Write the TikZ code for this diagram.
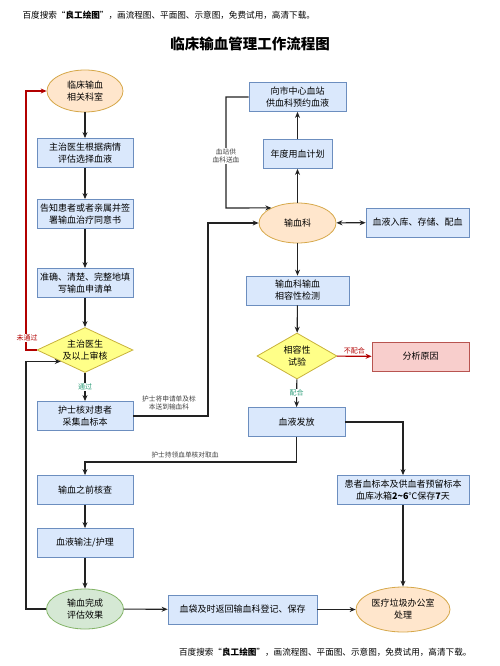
\documentclass[tikz,border=0pt]{standalone}
\usepackage{fontspec}
\setmainfont{Noto Sans CJK SC}
\usetikzlibrary{shapes.geometric,arrows.meta}

\definecolor{boxfill}{HTML}{DAE8FC}
\definecolor{boxline}{HTML}{6C8EBF}
\definecolor{orfill}{HTML}{FFE6CC}
\definecolor{orline}{HTML}{D6A84A}
\definecolor{grfill}{HTML}{D5E8D4}
\definecolor{grline}{HTML}{82B366}
\definecolor{yefill}{HTML}{FFFF88}
\definecolor{yeline}{HTML}{C8B23C}
\definecolor{pkfill}{HTML}{F8CECC}
\definecolor{pkline}{HTML}{B85450}
\definecolor{noline}{HTML}{B20000}
\definecolor{okline}{HTML}{2E9E7A}
\definecolor{wire}{HTML}{222222}

\tikzset{
  stepbox/.style={draw=boxline, fill=boxfill, line width=0.8pt, align=center,
    inner sep=0pt, minimum height=29, font=\fontsize{9}{12}\selectfont},
  startoval/.style={ellipse, draw=orline, fill=orfill, line width=0.8pt, align=center,
    inner sep=0pt, font=\fontsize{9}{12}\selectfont},
  endoval/.style={ellipse, draw=grline, fill=grfill, line width=0.8pt, align=center,
    inner sep=0pt, font=\fontsize{9}{12}\selectfont},
  checkdiamond/.style={diamond, draw=yeline, fill=yefill, line width=0.8pt, align=center,
    inner sep=0pt, font=\fontsize{9}{12}\selectfont},
  badbox/.style={stepbox, draw=pkline, fill=pkfill},
  wirelabel/.style={font=\fontsize{6.7}{8.5}\selectfont, align=center, text=black!75, inner sep=1pt},
  >={Stealth[length=6pt,width=5pt]},
}

\begin{document}
\begin{tikzpicture}[x=1pt, y=-1pt, line width=1.1pt, draw=wire]
  \useasboundingbox (0,0) rectangle (500,666);

  % header and title
  \node[anchor=west, font=\fontsize{8.6}{10}\selectfont, inner sep=0pt] (head) at (22,15)
    {百度搜索“\textbf{良工绘图}”，画流程图、平面图、示意图，免费试用，高清下载。};
  \node[font=\fontsize{14.5}{16}\selectfont\bfseries] (title) at (250,44) {临床输血管理工作流程图};
  \node[anchor=east, font=\fontsize{8.6}{10}\selectfont, inner sep=0pt] (foot) at (472,652)
    {百度搜索“\textbf{良工绘图}”，画流程图、平面图、示意图，免费试用，高清下载。};

  % left column
  \node[startoval, minimum width=76, minimum height=42] (ward) at (85,91) {临床输血\\相关科室};
  \node[stepbox, minimum width=96] (select) at (85,153) {主治医生根据病情\\评估选择血液};
  \node[stepbox, minimum width=96] (consent) at (85,214) {告知患者或者亲属并签\\署输血治疗同意书};
  \node[stepbox, minimum width=96] (apply) at (85,283) {准确、清楚、完整地填\\写输血申请单};
  \node[checkdiamond, shape aspect=2.13, minimum width=96, minimum height=45] (review) at (85,350) {主治医生\\及以上审核};
  \node[stepbox, minimum width=96] (sample) at (85,416) {护士核对患者\\采集血标本};
  \node[stepbox, minimum width=96] (precheck) at (85,490) {输血之前核查};
  \node[stepbox, minimum width=96] (infuse) at (85,543) {血液输注/护理};
  \node[endoval, minimum width=77, minimum height=40] (finish) at (85,609) {输血完成\\评估效果};

  % right column
  \node[stepbox, minimum width=97] (station) at (297.5,97) {向市中心血站\\供血科预约血液};
  \node[stepbox, minimum width=69] (plan) at (297.5,154) {年度用血计划};
  \node[startoval, minimum width=77, minimum height=40] (bank) at (297.5,223) {输血科};
  \node[stepbox, minimum width=103] (store) at (417.5,222.5) {血液入库、存储、配血};
  \node[stepbox, minimum width=103] (crossmatch) at (297.5,290.5) {输血科输血\\相容性检测};
  \node[checkdiamond, shape aspect=1.74, minimum width=80, minimum height=46] (compat) at (297,356) {相容性\\试验};
  \node[badbox, minimum width=97] (cause) at (420.5,356.5) {分析原因};
  \node[stepbox, minimum width=97] (issue) at (296.5,422) {血液发放};
  \node[stepbox, minimum width=132] (keep) at (403,490) {患者血标本及供血者预留标本\\血库冰箱\textbf{2\textasciitilde6}℃保存\textbf{7}天};
  \node[stepbox, minimum width=149] (bagback) at (242.5,609.5) {血袋及时返回输血科登记、保存};
  \node[startoval, minimum width=94, minimum height=45] (waste) at (403,609.5) {医疗垃圾办公室\\处理};

  % turning points
  \coordinate (redturn) at (26,350);
  \coordinate (sampleturn) at (208,416);
  \coordinate (sendturn) at (226,208);
  \coordinate (issueturn) at (296.5,462);
  \coordinate (loopturn) at (26,609);

  % left chain
  \draw[->] (ward) -- (select);
  \draw[->] (select) -- (consent);
  \draw[->] (consent) -- (apply);
  \draw[->] (apply) -- (review);
  \draw[->] (review) -- node[wirelabel, text=okline, fill=white, font=\fontsize{7}{8}\selectfont] {通过} (sample);
  \draw[->, draw=noline] (review.west) -- (redturn) |- (ward.west);
  \node[wirelabel, text=noline, fill=white, font=\fontsize{7}{8}\selectfont] (nolabel) at (27,338) {未通过};
  \draw[->] (sample.east) -- (sampleturn) |- (bank.west);
  \node[wirelabel] (sendlabel) at (169,403) {护士将申请单及标\\本送到输血科};
  \draw[->] (precheck) -- (infuse);
  \draw[->] (infuse) -- (finish);
  \draw[->] (finish.west) -- (loopturn) |- (review.south west);
  \draw[->] (finish) -- (bagback);
  \draw[->] (bagback) -- (waste);

  % right chain
  \draw[->] (bank) -- (plan);
  \draw[->] (plan) -- (station);
  \draw[->] (station.west) -| (sendturn) -- (bank.150);
  \node[wirelabel, fill=white] (supplylabel) at (226,156) {血站供\\血科送血};
  \draw[<->] (bank) -- (store);
  \draw[->] (bank) -- (crossmatch);
  \draw[->] (crossmatch) -- (compat);
  \draw[->, draw=noline] (compat) -- node[wirelabel, text=noline, above=1pt, font=\fontsize{7}{8}\selectfont] {不配合} (cause);
  \draw[->] (compat) -- node[wirelabel, text=okline, fill=white, font=\fontsize{7}{8}\selectfont] {配合} (issue);
  \draw[->] (issue.south) -- (issueturn) -| (precheck.north);
  \node[wirelabel] (takelabel) at (185,455) {护士持领血单核对取血};
  \draw[->] (issue.east) -| (keep.north);
  \draw[->] (keep) -- (waste);
\end{tikzpicture}
\end{document}
